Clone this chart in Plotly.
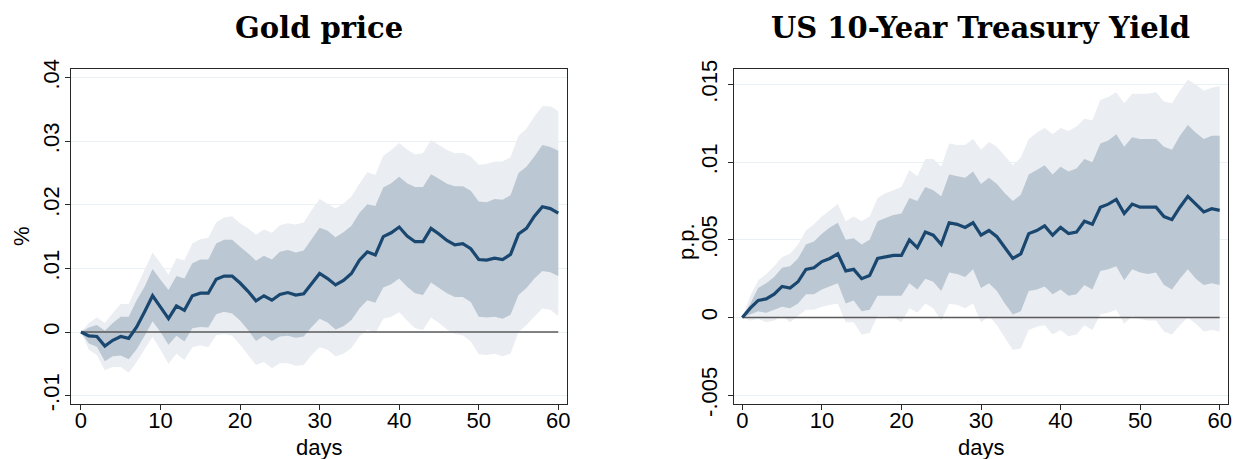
import plotly.graph_objects as go

# Horizon (days after the shock)
days = list(range(61))

# ---- Gold price (%) ----
gold_irf = [0, -0.0006, -0.0007, -0.0022, -0.0013, -0.0007, -0.0010, 0.0008, 0.0032, 0.0057,
            0.0039, 0.0021, 0.0041, 0.0034, 0.0057, 0.0061, 0.0061, 0.0083, 0.0088, 0.0088,
            0.0077, 0.0064, 0.0049, 0.0057, 0.0050, 0.0059, 0.0062, 0.0058, 0.0060, 0.0077,
            0.0092, 0.0084, 0.0074, 0.0081, 0.0092, 0.0113, 0.0126, 0.0121, 0.0150, 0.0156,
            0.0165, 0.0151, 0.0142, 0.0142, 0.0163, 0.0154, 0.0144, 0.0137, 0.0139, 0.0131,
            0.0114, 0.0113, 0.0116, 0.0114, 0.0122, 0.0154, 0.0163, 0.0182, 0.0197, 0.0194,
            0.0187]
gold_hi68 = [0, 0.0007, 0.0011, 0.0002, 0.0014, 0.0024, 0.0024, 0.0050, 0.0071, 0.0099,
             0.0082, 0.0066, 0.0088, 0.0084, 0.0108, 0.0114, 0.0114, 0.0139, 0.0145, 0.0145,
             0.0134, 0.0124, 0.0112, 0.0120, 0.0114, 0.0126, 0.0129, 0.0125, 0.0128, 0.0146,
             0.0164, 0.0159, 0.0149, 0.0157, 0.0167, 0.0187, 0.0201, 0.0198, 0.0227, 0.0234,
             0.0244, 0.0234, 0.0228, 0.0228, 0.0248, 0.0241, 0.0233, 0.0229, 0.0229, 0.0222,
             0.0205, 0.0204, 0.0209, 0.0208, 0.0215, 0.0250, 0.0260, 0.0276, 0.0294, 0.0291,
             0.0285]
gold_lo68 = [0, -0.0018, -0.0023, -0.0046, -0.0038, -0.0037, -0.0043, -0.0027, -0.0006, 0.0017,
             0.0000, -0.0020, -0.0006, -0.0015, 0.0006, 0.0008, 0.0007, 0.0028, 0.0032, 0.0029,
             0.0018, 0.0003, -0.0014, -0.0006, -0.0014, -0.0007, -0.0006, -0.0009, -0.0007, 0.0008,
             0.0021, 0.0015, 0.0004, 0.0009, 0.0019, 0.0037, 0.0050, 0.0046, 0.0070, 0.0075,
             0.0084, 0.0071, 0.0061, 0.0058, 0.0078, 0.0070, 0.0061, 0.0055, 0.0055, 0.0047,
             0.0024, 0.0023, 0.0024, 0.0021, 0.0027, 0.0058, 0.0069, 0.0084, 0.0096, 0.0094,
             0.0088]
gold_hi90 = [0, 0.0014, 0.0023, 0.0014, 0.0030, 0.0044, 0.0044, 0.0071, 0.0098, 0.0125,
             0.0108, 0.0090, 0.0116, 0.0113, 0.0139, 0.0146, 0.0148, 0.0172, 0.0180, 0.0182,
             0.0171, 0.0163, 0.0153, 0.0161, 0.0156, 0.0168, 0.0171, 0.0169, 0.0172, 0.0192,
             0.0209, 0.0202, 0.0194, 0.0202, 0.0213, 0.0233, 0.0251, 0.0247, 0.0277, 0.0286,
             0.0297, 0.0287, 0.0279, 0.0281, 0.0302, 0.0294, 0.0286, 0.0281, 0.0282, 0.0276,
             0.0263, 0.0264, 0.0268, 0.0268, 0.0275, 0.0308, 0.0320, 0.0339, 0.0355, 0.0355,
             0.0347]
gold_lo90 = [0, -0.0028, -0.0036, -0.0060, -0.0055, -0.0055, -0.0064, -0.0047, -0.0027, -0.0008,
             -0.0028, -0.0050, -0.0034, -0.0044, -0.0024, -0.0021, -0.0024, -0.0005, -0.0003, -0.0006,
             -0.0020, -0.0036, -0.0052, -0.0047, -0.0057, -0.0049, -0.0049, -0.0053, -0.0052, -0.0036,
             -0.0024, -0.0028, -0.0038, -0.0034, -0.0025, -0.0007, 0.0004, -0.0002, 0.0021, 0.0024,
             0.0031, 0.0018, 0.0006, 0.0003, 0.0023, 0.0014, 0.0004, -0.0003, -0.0005, -0.0015,
             -0.0035, -0.0036, -0.0034, -0.0038, -0.0034, 0.0000, 0.0011, 0.0024, 0.0037, 0.0035,
             0.0025]

# ---- US 10-Year Treasury Yield (p.p.) ----
ust_irf = [0, 0.0006, 0.0011, 0.0012, 0.0015, 0.0020, 0.0019, 0.0023, 0.0031, 0.0032,
           0.0036, 0.0038, 0.0041, 0.0030, 0.0031, 0.0025, 0.0027, 0.0038, 0.0039, 0.0040,
           0.0040, 0.0050, 0.0045, 0.0055, 0.0053, 0.0047, 0.0061, 0.0060, 0.0058, 0.0061,
           0.0053, 0.0056, 0.0052, 0.0045, 0.0038, 0.0041, 0.0054, 0.0056, 0.0059, 0.0053,
           0.0058, 0.0054, 0.0055, 0.0062, 0.0060, 0.0071, 0.0073, 0.0076, 0.0067, 0.0073,
           0.0071, 0.0071, 0.0071, 0.0065, 0.0063, 0.0071, 0.0078, 0.0073, 0.0068, 0.0070,
           0.0069]
ust_hi68 = [0, 0.0009, 0.0019, 0.0022, 0.0026, 0.0032, 0.0033, 0.0038, 0.0047, 0.0049,
            0.0054, 0.0058, 0.0061, 0.0050, 0.0051, 0.0047, 0.0050, 0.0062, 0.0064, 0.0066,
            0.0067, 0.0077, 0.0075, 0.0084, 0.0082, 0.0078, 0.0092, 0.0091, 0.0090, 0.0094,
            0.0086, 0.0090, 0.0086, 0.0080, 0.0075, 0.0079, 0.0092, 0.0095, 0.0098, 0.0092,
            0.0097, 0.0094, 0.0096, 0.0102, 0.0100, 0.0112, 0.0114, 0.0118, 0.0110, 0.0116,
            0.0115, 0.0115, 0.0115, 0.0110, 0.0108, 0.0117, 0.0124, 0.0119, 0.0115, 0.0117,
            0.0117]
ust_lo68 = [0, 0.0002, 0.0004, 0.0003, 0.0005, 0.0007, 0.0006, 0.0009, 0.0015, 0.0015,
            0.0018, 0.0020, 0.0022, 0.0009, 0.0011, 0.0004, 0.0005, 0.0014, 0.0014, 0.0014,
            0.0014, 0.0022, 0.0018, 0.0025, 0.0023, 0.0017, 0.0029, 0.0028, 0.0026, 0.0031,
            0.0019, 0.0022, 0.0017, 0.0009, 0.0002, 0.0004, 0.0017, 0.0018, 0.0020, 0.0015,
            0.0018, 0.0014, 0.0015, 0.0021, 0.0018, 0.0030, 0.0031, 0.0033, 0.0024, 0.0031,
            0.0029, 0.0028, 0.0029, 0.0021, 0.0018, 0.0025, 0.0031, 0.0025, 0.0021, 0.0022,
            0.0021]
ust_hi90 = [0, 0.0014, 0.0024, 0.0028, 0.0033, 0.0039, 0.0041, 0.0047, 0.0056, 0.0060,
            0.0065, 0.0069, 0.0073, 0.0062, 0.0065, 0.0062, 0.0065, 0.0077, 0.0080, 0.0082,
            0.0084, 0.0095, 0.0091, 0.0102, 0.0102, 0.0097, 0.0112, 0.0111, 0.0111, 0.0115,
            0.0108, 0.0113, 0.0110, 0.0104, 0.0098, 0.0103, 0.0115, 0.0119, 0.0122, 0.0118,
            0.0122, 0.0120, 0.0123, 0.0128, 0.0127, 0.0140, 0.0142, 0.0145, 0.0138, 0.0144,
            0.0144, 0.0144, 0.0145, 0.0139, 0.0138, 0.0146, 0.0153, 0.0150, 0.0146, 0.0148,
            0.0149]
ust_lo90 = [0, -0.0002, -0.0001, -0.0003, -0.0002, 0.0001, -0.0003, 0.0001, 0.0005, 0.0005,
            0.0007, 0.0008, 0.0009, -0.0003, -0.0003, -0.0011, -0.0010, 0.0001, 0.0001, 0.0000,
            -0.0003, 0.0006, 0.0003, 0.0009, 0.0006, -0.0002, 0.0009, 0.0008, 0.0006, 0.0009,
            -0.0003, 0.0001, -0.0005, -0.0013, -0.0021, -0.0020, -0.0008, -0.0006, -0.0005, -0.0011,
            -0.0008, -0.0012, -0.0011, -0.0005, -0.0008, 0.0002, 0.0003, 0.0005, -0.0004, 0.0001,
            -0.0001, -0.0002, -0.0002, -0.0009, -0.0011, -0.0005, 0.0000, -0.0004, -0.0009, -0.0008,
            -0.0009]

gold_ticks = [-0.01, 0, 0.01, 0.02, 0.03, 0.04]
gold_ticktext = ["-.01", "0", ".01", ".02", ".03", ".04"]
ust_ticks = [-0.005, 0, 0.005, 0.01, 0.015]
ust_ticktext = ["-.005", "0", ".005", ".01", ".015"]
day_ticks = [0, 10, 20, 30, 40, 50, 60]

titles = ["Gold price", "US 10-Year Treasury Yield"]
units = ["%", "p.p."]

OUTER = "rgb(234,237,241)"
INNER = "rgb(187,199,211)"
LINE = "rgb(26,71,111)"
ZERO = "rgb(90,90,90)"
GRID = "rgb(232,241,243)"
TICKFONT = dict(family="Liberation Sans, Arial, sans-serif", size=22, color="black")

fig = go.Figure()

panels = [
    (gold_irf, gold_lo68, gold_hi68, gold_lo90, gold_hi90, "x", "y"),
    (ust_irf, ust_lo68, ust_hi68, ust_lo90, ust_hi90, "x2", "y2"),
]
zeros = [0 for _ in days]

for irf, lo68, hi68, lo90, hi90, xa, ya in panels:
    common = dict(xaxis=xa, yaxis=ya, showlegend=False, hoverinfo="skip", mode="lines")
    fig.add_trace(go.Scatter(x=days, y=lo90, line=dict(width=0, color=OUTER), **common))
    fig.add_trace(go.Scatter(x=days, y=hi90, line=dict(width=0, color=OUTER),
                             fill="tonexty", fillcolor=OUTER, **common))
    fig.add_trace(go.Scatter(x=days, y=lo68, line=dict(width=0, color=INNER), **common))
    fig.add_trace(go.Scatter(x=days, y=hi68, line=dict(width=0, color=INNER),
                             fill="tonexty", fillcolor=INNER, **common))
    fig.add_trace(go.Scatter(x=days, y=zeros, line=dict(width=1.6, color=ZERO), **common))
    fig.add_trace(go.Scatter(x=days, y=irf, line=dict(width=3.2, color=LINE), **common))

axis_common = dict(
    showline=True, linecolor="rgb(40,40,40)", linewidth=1.3, mirror=True,
    ticks="outside", ticklen=5, tickwidth=1.2, tickcolor="rgb(40,40,40)",
    tickfont=TICKFONT, zeroline=False, automargin=False,
)

ydom = [0.1198, 0.8497]
fig.update_layout(
    template="none",
    width=1234, height=459,
    margin=dict(l=0, r=0, t=0, b=0, pad=0),
    paper_bgcolor="white", plot_bgcolor="white",
    xaxis=dict(domain=[0.0575, 0.4595], range=[-1.26, 61.1], tickvals=day_ticks,
               showgrid=False, anchor="y", ticklabelstandoff=-9, **axis_common),
    yaxis=dict(domain=ydom, range=[-0.01132, 0.04135], tickvals=gold_ticks,
               ticktext=gold_ticktext, tickangle=-90, showgrid=True, gridcolor=GRID,
               gridwidth=1.2, anchor="x", ticklabelstandoff=-3, **axis_common),
    xaxis2=dict(domain=[0.5946, 0.9951], range=[-1.08, 61.04], tickvals=day_ticks,
                showgrid=False, anchor="y2", ticklabelstandoff=-9, **axis_common),
    yaxis2=dict(domain=ydom, range=[-0.00557, 0.0160], tickvals=ust_ticks,
                ticktext=ust_ticktext, tickangle=-90, showgrid=True, gridcolor=GRID,
                gridwidth=1.2, anchor="x2", ticklabelstandoff=2, **axis_common),
)

title_font = dict(family="DejaVu Serif, serif", size=29, color="black")
label_font = dict(family="Liberation Sans, Arial, sans-serif", size=22, color="black")
centers = [(0.0575 + 0.4595) / 2, (0.5946 + 0.9951) / 2]
for i, (t, u) in enumerate(zip(titles, units)):
    fig.add_annotation(text="<b>" + t + "</b>", x=centers[i], y=(459 - 28) / 459,
                       xref="paper", yref="paper", showarrow=False, font=title_font,
                       xanchor="center", yanchor="middle")
    fig.add_annotation(text="days", x=centers[i], y=(459 - 447) / 459,
                       xref="paper", yref="paper", showarrow=False, font=label_font,
                       xanchor="center", yanchor="middle")

fig.add_annotation(text=units[0], x=21 / 1234, y=(459 - 236) / 459, textangle=-90,
                   xref="paper", yref="paper", showarrow=False, font=label_font,
                   xanchor="center", yanchor="middle")
fig.add_annotation(text=units[1], x=686 / 1234, y=(459 - 242) / 459, textangle=-90,
                   xref="paper", yref="paper", showarrow=False, font=label_font,
                   xanchor="center", yanchor="middle")

fig.write_html("out.html")
